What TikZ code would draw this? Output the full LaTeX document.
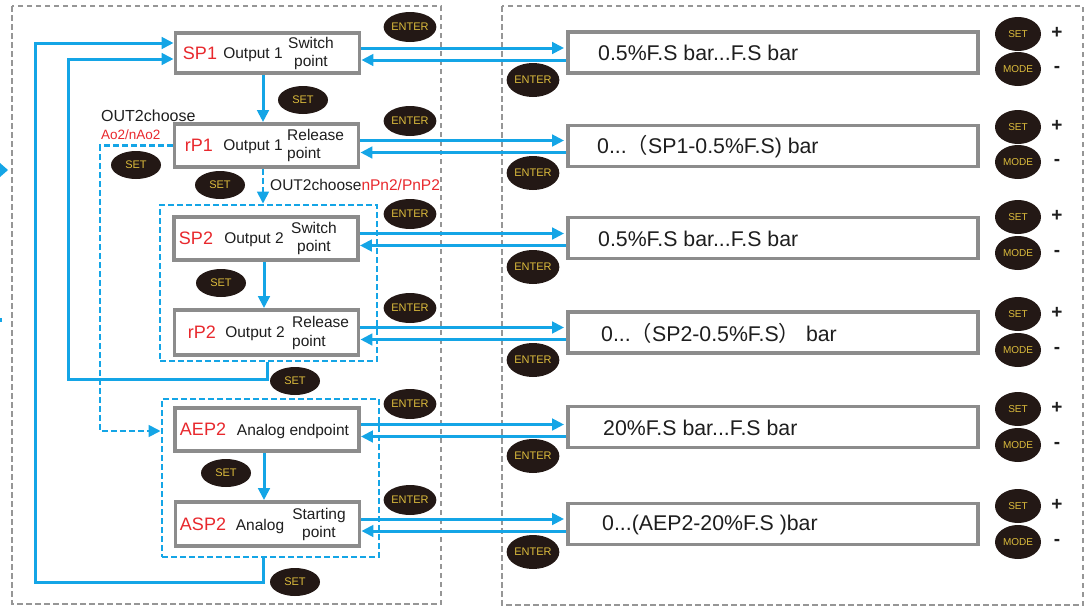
\documentclass[tikz,border=0pt]{standalone}
\usepackage{fontspec}
\setmainfont{Liberation Sans}
\newfontfamily\cjkf{Noto Sans CJK SC}
\usetikzlibrary{arrows.meta,shapes.geometric}
\definecolor{cblue}{RGB}{20,165,230}
\definecolor{cgray}{RGB}{140,140,140}
\definecolor{cdash}{RGB}{150,150,150}
\definecolor{cred}{RGB}{232,40,45}
\definecolor{cbtn}{RGB}{35,24,21}
\definecolor{cgold}{RGB}{220,188,60}
\definecolor{ctxt}{RGB}{30,30,30}
\tikzset{
  blu/.style={draw=cblue, line width=3pt},
  arr/.style={-{Triangle[length=12pt,width=11.5pt]}},
  gbox/.style={draw=cgray, line width=3.8pt, fill=white, minimum width=184pt, inner sep=0pt},
  dbox/.style={draw=cgray, line width=3.8pt, fill=white, minimum width=410pt, minimum height=41pt, inner sep=0pt},
  outerbox/.style={draw=cdash, line width=2.2pt, dash pattern=on 5.5pt off 3.5pt},
  bdash/.style={draw=cblue, line width=2.7pt, dash pattern=on 6pt off 3pt},
  bdashline/.style={draw=cblue, line width=2.7pt, dash pattern=on 6pt off 3pt},
  btn/.style={ellipse, fill=cbtn, text=cgold, inner sep=0pt, font=\fontsize{11}{11}\selectfont},
  enterl/.style={btn, minimum width=50pt, minimum height=30pt},
  setl/.style={btn, minimum width=50pt, minimum height=28pt},
  enterr/.style={btn, minimum width=50pt, minimum height=34pt},
  smallbtn/.style={btn, minimum width=46pt, minimum height=34pt, font=\fontsize{10}{10}\selectfont},
  pm/.style={inner sep=0pt, font=\bfseries\fontsize{19}{19}\selectfont, text=ctxt},
  code/.style={inner sep=0pt, text=cred, font=\fontsize{18}{18}\selectfont},
  lbl/.style={inner sep=0pt, text=ctxt, font=\fontsize{15.5}{18.5}\selectfont},
  disp/.style={inner sep=0pt, anchor=west, text=ctxt, font=\fontsize{21.3}{23}\selectfont},
}
\begin{document}
\begin{tikzpicture}[x=1pt,y=-1pt]
\useasboundingbox (0,0) rectangle (1090,608);
% outer dashed frames
\draw[outerbox] (12,6) rectangle (441,604);
\draw[outerbox] (502,6) rectangle (1083,605);
% cropped remnants at the left edge
\fill[cblue] (0,163) -- (8,170) -- (0,177) -- cycle;
\fill[cblue] (0,318) rectangle (2,322);

% blue dashed group frames
\node[bdash, minimum width=217pt, minimum height=156pt, inner sep=0pt] (B1) at (268.5,283) {};
\node[bdash, minimum width=217pt, minimum height=158pt, inner sep=0pt] (B2) at (270.5,478) {};

% left boxes
\node[gbox, minimum height=40pt] (SP1) at (267.5,53) {};
\node[gbox, minimum height=43pt] (RP1) at (266.5,145.5) {};
\node[gbox, minimum height=43pt] (SP2) at (266,238.5) {};
\node[gbox, minimum height=45pt] (RP2) at (266.5,332.5) {};
\node[gbox, minimum height=43pt] (AEP) at (267,429.5) {};
\node[gbox, minimum height=44pt] (ASP) at (267.5,524) {};

% right display boxes
\node[dbox] (D1) at (773,52.5) {};
\node[dbox] (D2) at (773,146) {};
\node[dbox] (D3) at (773,238) {};
\node[dbox] (D4) at (773,332.5) {};
\node[dbox] (D5) at (773,427) {};
\node[dbox] (D6) at (773,524) {};

% texts in left boxes
\node[code] (t1a) at (200,53) {SP1};
\node[lbl] (t1b) at (253,55) {Output 1};
\node[lbl, align=center] (t1c) at (311,53.5) {Switch\\point};
\node[code] (t2a) at (199,145) {rP1};
\node[lbl] (t2b) at (253,147) {Output 1};
\node[lbl, align=left, anchor=west] (t2c) at (287,145.5) {Release\\point};
\node[code] (t3a) at (196,238) {SP2};
\node[lbl] (t3b) at (254,240) {Output 2};
\node[lbl, align=center] (t3c) at (314,238.5) {Switch\\point};
\node[code] (t4a) at (202,332) {rP2};
\node[lbl] (t4b) at (255,334) {Output 2};
\node[lbl, align=left, anchor=west] (t4c) at (292,333) {Release\\point};
\node[code] (t5a) at (203,429) {AEP2};
\node[lbl] (t5b) at (293,431) {Analog endpoint};
\node[code] (t6a) at (203,524) {ASP2};
\node[lbl] (t6b) at (260,526) {Analog};
\node[lbl, align=center] (t6c) at (319,524.5) {Starting\\point};

% display texts
\node[disp] (d1) at (598,53) {0.5\%F.S bar...F.S bar};
\node[disp] (d2) at (597,146.5) {0...{\cjkf （}SP1-0.5\%F.S) bar};
\node[disp] (d3) at (598,238.5) {0.5\%F.S bar...F.S bar};
\node[disp] (d4) at (601,333) {0...{\cjkf （}SP2-0.5\%F.S{\cjkf ）} bar};
\node[disp] (d5) at (603,428) {20\%F.S bar...F.S bar};
\node[disp] (d6) at (602,525) {0...(AEP2-20\%F.S )bar};

% choose labels
\node[lbl, anchor=west, font=\fontsize{16}{18}\selectfont] (oc1) at (101,116) {OUT2choose};
\node[lbl, anchor=west, text=cred, font=\fontsize{13.5}{15}\selectfont] (oc2) at (101,135) {Ao2/nAo2};
\node[lbl, anchor=west] (oc3) at (270,185) {OUT2choose\textcolor{cred}{nPn2/PnP2}};

% vertical flow arrows
\coordinate (xa) at (263,0);
\coordinate (xb) at (264,0);
\draw[blu, arr] (SP1.south -| xa) -- (RP1.north -| xa);
\draw[bdashline, arr] (RP1.south -| xa) -- (B1.north -| xa);
\draw[blu, arr] (SP2.south -| xb) -- (RP2.north -| xb);
\draw[blu, arr] (AEP.south -| xb) -- (ASP.north -| xb);

% return loops
\draw[blu, arr] (B1.south -| 267,0) -- (267,379) -- (68,379) -- (68,59) -- (SP1.west |- 0,59);
\draw[blu, arr] (B2.south -| 263,0) -- (263,582) -- (35,582) -- (35,43) -- (SP1.west |- 0,43);
\draw[bdashline, arr] (RP1.west) -- (100,145.5) -- (100,431) -- (B2.west |- 0,431);

% horizontal double arrows
\foreach \L/\R in {SP1/D1, RP1/D2, SP2/D3, RP2/D4, AEP/D5, ASP/D6}{
  \draw[blu, arr, shorten >=2pt] ([yshift=5pt]\L.east) -- ([yshift=5pt]\L.east -| \R.west);
  \draw[blu, arr] ([yshift=-7pt]\L.east -| \R.west) -- ([yshift=-7pt]\L.east);
}

% ENTER buttons (left column)
\node[enterl] (el1) at (410,27) {ENTER};
\node[enterl] (el2) at (410,121) {ENTER};
\node[enterl] (el3) at (410,214) {ENTER};
\node[enterl] (el4) at (410,308) {ENTER};
\node[enterl] (el5) at (410,404) {ENTER};
\node[enterl] (el6) at (410,500) {ENTER};
% ENTER buttons (right column)
\node[enterr] (er1) at (533,80) {ENTER};
\node[enterr] (er2) at (533,173) {ENTER};
\node[enterr] (er3) at (533,267) {ENTER};
\node[enterr] (er4) at (533,360) {ENTER};
\node[enterr] (er5) at (533,456) {ENTER};
\node[enterr] (er6) at (533,552) {ENTER};
% SET buttons (left)
\node[setl] (s1) at (303,100) {SET};
\node[setl] (s2) at (136,165) {SET};
\node[setl] (s3) at (220,185) {SET};
\node[setl] (s4) at (221,283) {SET};
\node[setl] (s5) at (295,381) {SET};
\node[setl] (s6) at (226,473) {SET};
\node[setl] (s7) at (295,582) {SET};
% SET / MODE buttons (right)
\foreach \i/\ys/\ym in {1/34/69, 2/127/162, 3/217/253, 4/314/350, 5/409/445, 6/506/542}{
  \node[smallbtn] (rs\i) at (1018,\ys) {SET};
  \node[smallbtn] (rm\i) at (1018,\ym) {MODE};
  \node[pm] (rp\i) at (1057,\ys-1) {+};
  \node[pm] (rn\i) at (1057,\ym) {-};
}
\end{tikzpicture}
\end{document}
